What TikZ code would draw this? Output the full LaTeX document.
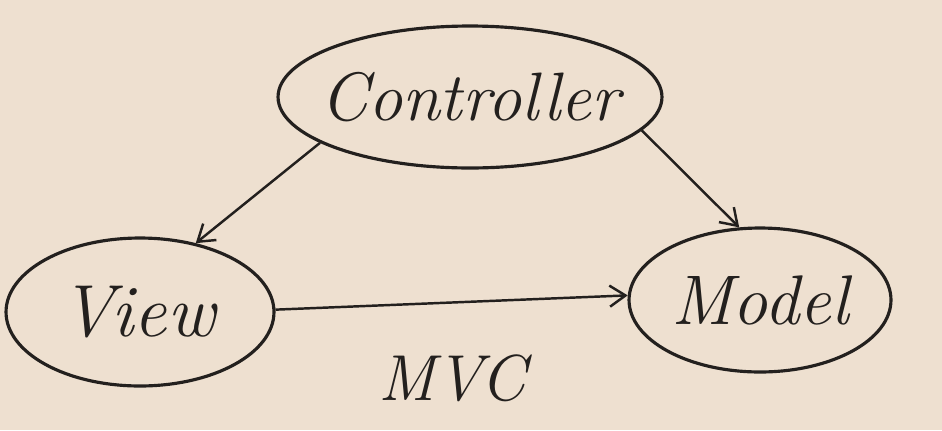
\documentclass[tikz,border=0pt]{standalone}
\usetikzlibrary{shapes.geometric,arrows.meta}
\definecolor{paper}{RGB}{238,224,208}
\definecolor{ink}{RGB}{35,32,30}
\begin{document}
\begin{tikzpicture}[x=0.02cm,y=-0.02cm,
  blob/.style={ellipse,draw=ink,line width=1.8pt,inner sep=0pt},
  lbl/.style={text=ink,font=\fontsize{#1}{#1}\selectfont\itshape},
  link/.style={draw=ink,line width=1.4pt,-{Straight Barb[length=9pt,width=12pt]}}]
\fill[paper] (0,0) rectangle (942,430);
\useasboundingbox (0,0) rectangle (942,430);
\node[blob,minimum width=7.68cm,minimum height=2.84cm] (C) at (470,97) {};
\node[lbl=39] (Ct) at (C) {Controller};
\node[blob,minimum width=5.36cm,minimum height=2.96cm] (V) at (140,312) {};
\node[lbl=42] (Vt) at (138,312) {View};
\node[blob,minimum width=5.24cm,minimum height=2.88cm] (M) at (760,300) {};
\node[lbl=40] (Mt) at (M) {Model};
\node[lbl=37] (T) at (452,378) {MVC};
\draw[link] (C.197) -- (V.51);
\draw[link] (C.349) -- (M.106);
\draw[link] (V.1) -- (M.178);
\end{tikzpicture}
\end{document}
